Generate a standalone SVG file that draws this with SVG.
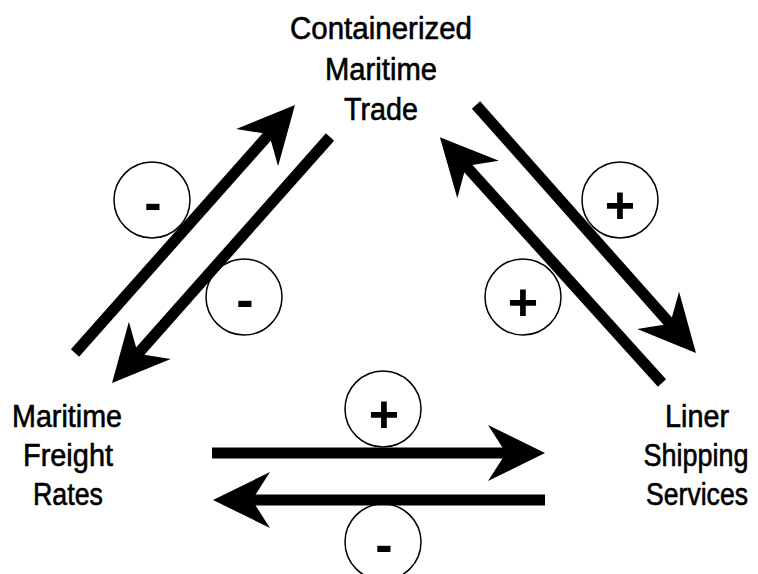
<svg xmlns="http://www.w3.org/2000/svg" width="758" height="574" viewBox="0 0 758 574">
<style>
.lbl{font-family:"Liberation Sans",Arial,sans-serif;font-size:31px;fill:#000;stroke:#000;stroke-width:0.6;text-anchor:middle}
.sign{font-family:"Liberation Sans",Arial,sans-serif;font-size:52px;font-weight:bold;fill:#000;text-anchor:middle}
.ring{fill:#fff;stroke:#000;stroke-width:1.5}
.arr{stroke:#000;stroke-width:11;fill:none;stroke-linecap:butt;marker-end:url(#head)}
</style>
<defs>
<marker id="head" markerUnits="userSpaceOnUse" viewBox="-40 -30 62 60" markerWidth="62" markerHeight="60" refX="0" refY="0" orient="auto" overflow="visible">
<path d="M20,0 L-37,-28 L-19,0 L-37,28 Z" fill="#000"/>
</marker>
</defs>
<rect width="758" height="574" fill="#fff"/>
<g id="trade">
<text class="lbl" x="381" y="39" textLength="182" lengthAdjust="spacingAndGlyphs">Containerized</text>
<text class="lbl" x="381" y="80" textLength="112" lengthAdjust="spacingAndGlyphs">Maritime</text>
<text class="lbl" x="381" y="120" textLength="74" lengthAdjust="spacingAndGlyphs">Trade</text>
</g>
<g id="freight">
<text class="lbl" x="67" y="427" textLength="110" lengthAdjust="spacingAndGlyphs">Maritime</text>
<text class="lbl" x="68" y="466" textLength="90" lengthAdjust="spacingAndGlyphs">Freight</text>
<text class="lbl" x="68" y="505" textLength="70" lengthAdjust="spacingAndGlyphs">Rates</text>
</g>
<g id="liner">
<text class="lbl" x="697" y="427" textLength="64" lengthAdjust="spacingAndGlyphs">Liner</text>
<text class="lbl" x="696" y="466" textLength="105" lengthAdjust="spacingAndGlyphs">Shipping</text>
<text class="lbl" x="697" y="505" textLength="102" lengthAdjust="spacingAndGlyphs">Services</text>
</g>
<g id="signs">
<g id="s1"><circle class="ring" cx="152" cy="200" r="38"/><text class="sign" x="153" y="220">-</text></g>
<g id="s2"><circle class="ring" cx="244" cy="297" r="38"/><text class="sign" x="245" y="317">-</text></g>
<g id="s3"><circle class="ring" cx="620" cy="200" r="38"/><text class="sign" x="620" y="223">+</text></g>
<g id="s4"><circle class="ring" cx="523" cy="297" r="38"/><text class="sign" x="523" y="320">+</text></g>
<g id="s5"><circle class="ring" cx="383" cy="409" r="38"/><text class="sign" x="384" y="432">+</text></g>
<g id="s6"><circle class="ring" cx="383" cy="542" r="38"/><text class="sign" x="384" y="562">-</text></g>
</g>
<g id="connectors">
<path class="arr" d="M75,353 L281.7,120"/>
<path class="arr" d="M330,137 L125.3,368"/>
<path class="arr" d="M476,105 L682.7,338"/>
<path class="arr" d="M662,383 L453.3,152"/>
<path class="arr" d="M212,453 L525,453"/>
<path class="arr" d="M545,500 L233,500"/>
</g>
</svg>
